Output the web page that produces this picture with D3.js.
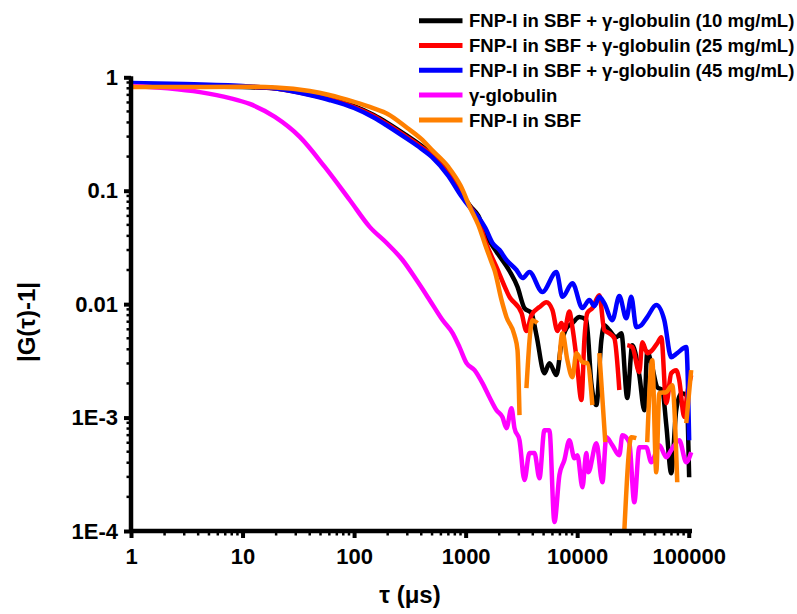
<!DOCTYPE html>
<html>
<head>
<meta charset="utf-8">
<script src="https://cdn.jsdelivr.net/npm/d3@7"></script>
<style>
  html, body { margin: 0; padding: 0; background: #fff; }
  svg { display: block; font-family: "Liberation Sans", Arial, sans-serif; font-weight: bold; }
</style>
</head>
<body>
<svg id="chart" width="797" height="614"></svg>
<script>
// Autocorrelation |G(τ)-1| versus lag time τ (µs); null values mark breaks in a trace.
const seriesNames = [
  "FNP-I in SBF + γ-globulin (10 mg/mL)",
  "FNP-I in SBF + γ-globulin (25 mg/mL)",
  "FNP-I in SBF + γ-globulin (45 mg/mL)",
  "γ-globulin",
  "FNP-I in SBF"
];
const seriesColors = ["#000000", "#ff0000", "#0000ff", "#ff00ff", "#ff8000"];

const fnpGlob10 = [
  [1,0.846],[3,0.838],[10,0.821],[20,0.797],[40,0.713],[60,0.650],[100,0.558],[150,0.465],
  [200,0.395],[300,0.304],[400,0.250],[500,0.211],[700,0.146],[900,0.0996],[1100,0.0731],
  [1300,0.0600],[1500,0.042],[1892,0.0290],[2472,0.0196],[2917,0.0142],[3365,0.00923],
  [3890,0.00834],[4315,0.00533],[5082,0.00246],[5636,0.00302],[6516,0.00237],[7228,0.00453],
  [8000,0.0061],[9057,0.00681],[10471,0.00769],[12080,0.00723],[13400,0.00201],[14860,0.00129],
  [16480,0.00482],[17500,0.00653],[19410,0.00590],[22440,0.00512],[24890,0.00555],[28120,0.00149],
  [31190,0.00435],[36060,0.00237],[39990,0.00116],[42460,0.0038],[47100,0.00278],[52240,0.00185],
  [57940,0.00175],[62950,0.000857],[69660,0.000323],[77270,0.00116],[85700,0.00164],
  [95060,0.00158],[100900,0.000298]
];
const fnpGlob25 = [
  [1,0.855],[3,0.846],[10,0.830],[20,0.797],[40,0.705],[60,0.643],[100,0.547],[150,0.456],
  [200,0.384],[300,0.295],[400,0.243],[500,0.204],[700,0.140],[900,0.0957],[1100,0.0718],
  [1300,0.0564],[1500,0.036],[1892,0.0212],[2472,0.0116],[3170,0.00834],[3508,0.0058],
  [3890,0.0080],[4590,0.00942],[5297,0.0104],[5998,0.00887],[6653,0.0058],[7228,0.00681],
  [7674,0.0059],[8511,0.0086],[9057,0.00627],[9840,0.00341],[10914,0.00143],[11600,0.00482],
  [12330,0.00834],[13680,0.00923],[15810,0.0120],[17500,0.0059],[19410,0.00555],[21530,0.0050],
  [23880,0.00175],[26000,null],[28120,0.00435],[31190,0.00418],[36060,0.00251],[38370,0.00462],
  [42460,0.0037],[47100,0.00394],[52240,0.00453],[56750,0.00512],[62950,0.00134],[69660,0.00246],
  [77270,0.00262],[82220,0.00214],[91200,0.00101],[97050,0.00164],[105200,0.00237]
];
const fnpGlob45 = [
  [1,0.891],[3,0.873],[10,0.838],[20,0.797],[40,0.698],[60,0.631],[100,0.536],[150,0.442],
  [200,0.372],[300,0.286],[400,0.235],[500,0.198],[700,0.135],[900,0.0917],[1100,0.0705],
  [1300,0.0586],[1500,0.047],[1741,0.0346],[2014,0.0300],[2323,0.0245],[2858,0.0200],
  [3236,0.0170],[3733,0.0192],[4875,0.0128],[6516,0.0192],[7379,0.0116],[9057,0.0153],
  [11143,0.00923],[12850,0.0109],[14260,0.0096],[15810,0.0116],[17500,0.0102],[20650,0.00723],
  [23880,0.0118],[27540,0.0075],[30550,0.0116],[33880,0.00627],[37580,0.00653],[42460,0.00769],
  [51170,0.00982],[60390,0.00723],[69660,0.00341],[78890,0.00370],[95060,0.00418],[100900,0.000632]
];
const globulin = [
  [1,0.84],[2.14,0.80],[4.15,0.74],[7.7,0.656],[11.6,0.582],[19.5,0.447],[32.6,0.298],
  [54.6,0.162],[91.4,0.0828],[138,0.048],[196,0.0346],[272,0.0245],[363,0.0163],[475,0.0109],
  [621,0.00724],[764,0.00556],[881,0.00418],[1019,0.00302],[1202,0.00262],[1416,0.00201],
  [1637,0.00151],[1892,0.00116],[2138,0.00101],[2323,0.000807],[2576,0.00121],[2742,0.000807],
  [3040,0.000632],[3365,0.000281],[3733,0.000486],[4140,0.000486],[4590,0.000292],[5082,0.000774],
  [5636,0.000774],[6252,0.000120],[6934,0.000312],[7674,0.000421],[8511,0.000632],[9441,0.000438],
  [10046,0.000466],[11143,0.000243],[12080,0.000486],[12590,0.000330],[14860,0.000595],
  [16830,0.000269],[18240,0.000672],[20650,0.000571],[23880,0.000466],[25410,0.000700],
  [29310,0.000607],[32510,0.000179],[36060,0.000548],[41690,0.000548],[46130,0.000404],
  [54450,0.000571],[62950,0.000447],[69660,0.000516],[82220,0.000632],[95060,0.000404],
  [105200,0.000495]
];
const fnpSBF = [
  [1,0.821],[3,0.821],[10,0.826],[20,0.813],[40,0.757],[60,0.698],[100,0.606],[150,0.531],
  [200,0.475],[300,0.357],[400,0.286],[500,0.228],[700,0.162],[900,0.111],[1100,0.0705],
  [1300,0.0499],[1500,0.0333],[1700,0.0237],[1815,0.0200],[2096,0.0109],[2323,0.00769],
  [2742,0.00533],[2917,0.00394],[3040,0.00105],[3200,null],[3508,0.00182],[3972,0.00723],
  [4405,0.00681],[5000,null],[6934,0.00321],[7379,0.00555],[8166,0.00321],[9057,0.00227],
  [9840,0.00370],[11143,0.00308],[12330,0.00302],[13680,0.00129],[14500,null],[15810,0.00370],
  [17870,0.000607],[22000,null],[26490,0.000102],[30550,0.000672],[33880,0.000659],[38000,null],
  [42460,0.000607],[47100,0.00321],[51170,0.000330],[54450,0.00164],[62950,0.00168],
  [71120,0.00193],[78890,0.000269],[85000,null],[95060,0.000893],[105200,0.00262]
];
const seriesData = [fnpGlob10, fnpGlob25, fnpGlob45, globulin, fnpSBF];

const xTickValues = [1, 10, 100, 1000, 10000, 100000];
const xTickLabels = ["1", "10", "100", "1000", "10000", "100000"];
const yTickValues = [1, 0.1, 0.01, 0.001, 0.0001];
const yTickLabels = ["1", "0.1", "0.01", "1E-3", "1E-4"];

const svg = d3.select("#chart");
const plot = { left: 131, right: 692, top: 77.3, bottom: 531 };

const x = d3.scaleLog().domain([1, 107000]).range([plot.left, plot.right]);
const y = d3.scaleLog().domain([1e-4, 1]).range([plot.bottom, plot.top]);

// minor tick positions: 2..9 within each decade
const minorX = [];
for (let p = 0; p <= 5; p++) for (let m = 2; m <= 9; m++) {
  const v = m * Math.pow(10, p);
  if (v <= 107000) minorX.push(v);
}
const minorY = [];
for (let p = -4; p < 0; p++) for (let m = 2; m <= 9; m++) minorY.push(m * Math.pow(10, p));

// data traces
const line = d3.line()
  .defined(d => d[1] != null)
  .x(d => x(d[0]))
  .y(d => y(d[1]))
  .curve(d3.curveMonotoneX);

svg.append("g").selectAll("path")
  .data(seriesData)
  .join("path")
  .attr("d", d => line(d))
  .attr("fill", "none")
  .attr("stroke", (d, i) => seriesColors[i])
  .attr("stroke-width", 4.5)
  .attr("stroke-linejoin", "round")
  .attr("stroke-linecap", "butt");

// x axis
const xAxis = d3.axisBottom(x).tickValues(xTickValues)
  .tickFormat((d, i) => xTickLabels[i]).tickSize(7).tickPadding(10);
const gx = svg.append("g").attr("transform", `translate(0,${plot.bottom})`).call(xAxis);
gx.select(".domain").attr("d", `M${plot.left},0H${plot.right}`).attr("stroke", "#000").attr("stroke-width", 4.5);
gx.selectAll(".tick line").attr("stroke", "#000").attr("stroke-width", 4);
gx.selectAll(".tick text").attr("fill", "#000").style("font-size", "22px").style("font-weight", "bold");
gx.append("g").selectAll("line").data(minorX).join("line")
  .attr("x1", d => x(d)).attr("x2", d => x(d))
  .attr("y1", 0).attr("y2", 4.5)
  .attr("stroke", "#000").attr("stroke-width", 2.5);

// y axis
const yAxis = d3.axisLeft(y).tickValues(yTickValues)
  .tickFormat((d, i) => yTickLabels[i]).tickSize(7).tickPadding(6);
const gy = svg.append("g").attr("transform", `translate(${plot.left},0)`).call(yAxis);
gy.select(".domain").attr("d", `M0,${plot.bottom + 2}V${plot.top - 1}`).attr("stroke", "#000").attr("stroke-width", 4.5);
gy.selectAll(".tick line").attr("stroke", "#000").attr("stroke-width", 4);
gy.selectAll(".tick text").attr("fill", "#000").style("font-size", "22px").style("font-weight", "bold");
gy.append("g").selectAll("line").data(minorY).join("line")
  .attr("x1", 0).attr("x2", -4.5)
  .attr("y1", d => y(d)).attr("y2", d => y(d))
  .attr("stroke", "#000").attr("stroke-width", 2.5);

// axis titles
svg.append("text")
  .attr("x", 410).attr("y", 603)
  .attr("text-anchor", "middle")
  .style("font-size", "24px")
  .text("τ (μs)");
svg.append("text")
  .attr("transform", "translate(35,322) rotate(-90)")
  .attr("text-anchor", "middle")
  .style("font-size", "24px")
  .text("|G(τ)-1|");

// legend
const legend = svg.append("g").attr("transform", "translate(419,20.7)");
const rows = legend.selectAll("g").data(seriesNames).join("g")
  .attr("transform", (d, i) => `translate(0,${i * 24.8})`);
rows.append("line")
  .attr("x1", 0).attr("x2", 43.5).attr("y1", 0).attr("y2", 0)
  .attr("stroke", (d, i) => seriesColors[i]).attr("stroke-width", 5);
rows.append("text")
  .attr("x", 50).attr("y", 0).attr("dy", "0.36em")
  .style("font-size", "18.5px")
  .text(d => d);
</script>
</body>
</html>
